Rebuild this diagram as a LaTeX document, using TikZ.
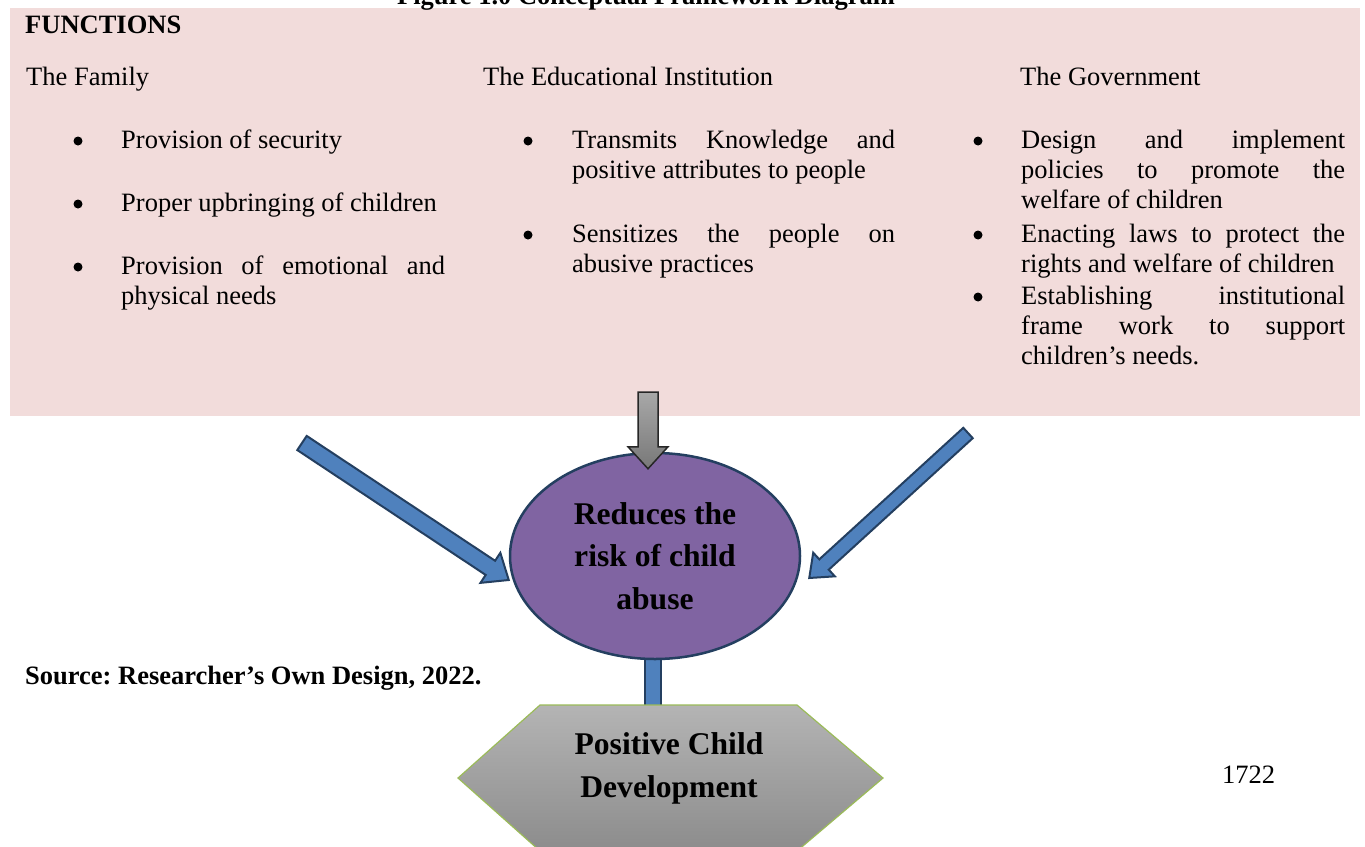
\documentclass[tikz,border=0pt]{standalone}
\usepackage{fontspec}
\setmainfont{Liberation Serif}
\usetikzlibrary{calc,shapes.geometric}
\frenchspacing

\definecolor{panelpink}{HTML}{F2DCDB}
\definecolor{riskviolet}{HTML}{8064A2}
\definecolor{navyline}{HTML}{243F60}
\definecolor{arrowblue}{HTML}{4F81BD}
\definecolor{leafgreen}{HTML}{9BBB59}
\definecolor{hextop}{HTML}{B4B4B4}
\definecolor{hexbottom}{HTML}{8C8C8C}
\definecolor{greytop}{HTML}{A8A8A8}
\definecolor{greybottom}{HTML}{787878}
\definecolor{greyline}{HTML}{262626}

\pgfdeclarelayer{background}
\pgfsetlayers{background,main}

% one justified line spanning the full column width
\newcommand\fullline[1]{\makebox[\linewidth][s]{#1}\par}

% block arrow: #1 options, #2 tail, #3 tip, #4 half shaft, #5 half head, #6 head length
\newcommand\blockarrow[6]{%
  \coordinate (arrowneck) at ($(#3)!#6!(#2)$);
  \path[#1] ($(#2)!#4!90:(#3)$) -- ($(arrowneck)!#4!-90:(#2)$)
    -- ($(arrowneck)!#5!-90:(#2)$) -- (#3) -- ($(arrowneck)!#5!90:(#2)$)
    -- ($(arrowneck)!#4!90:(#2)$) -- ($(#2)!#4!-90:(#3)$) -- cycle;}

\begin{document}
\begin{tikzpicture}[x=1pt,y=-1pt,
  plain/.style={font=\fontsize{26.5}{30}\selectfont, inner sep=0, anchor=base west},
  boldtext/.style={plain, font=\bfseries\fontsize{26.5}{30}\selectfont},
  item/.style={plain},
  bul/.style={circle, fill=black, inner sep=0, minimum size=9pt},
  bluearrow/.style={fill=arrowblue, draw=navyline, line width=2pt, line join=miter},
  greyarrow/.style={top color=greytop, bottom color=greybottom, draw=greyline, line width=1.5pt},
  bigbold/.style={font=\bfseries\fontsize{31.6}{42.5}\selectfont, align=center, inner sep=0}]

\useasboundingbox (0,0) rectangle (1365,846);

% caption, cut by the top edge
\node[boldtext, anchor=base] (title) at (646,4) {Figure 1.0 Conceptual Framework Diagram};

\node[boldtext] (functions) at (25,33) {FUNCTIONS};

% column headings
\node[plain] (family) at (26,85) {The Family};
\node[plain] (school) at (483,85) {The Educational Institution};
\node[plain] (govt) at (1020,85) {The Government};

% the family
\node[bul] (famb1) at (78,141) {};
\node[item] (fam1) at (121,148) {\parbox[t]{324pt}{Provision of security}};
\node[bul] (famb2) at (78,204) {};
\node[item] (fam2) at (121,211) {\parbox[t]{324pt}{Proper upbringing of children}};
\node[bul] (famb3) at (78,267) {};
\node[item] (fam3) at (121,274) {\parbox[t]{324pt}{\fullline{Provision of emotional and}physical needs}};

% the educational institution
\node[bul] (edub1) at (528,141) {};
\node[item] (edu1) at (572,148) {\parbox[t]{323pt}{\fullline{Transmits Knowledge and}positive attributes to people}};
\node[bul] (edub2) at (528,235) {};
\node[item] (edu2) at (572,242) {\parbox[t]{323pt}{\fullline{Sensitizes the people on}abusive practices}};

% the government
\node[bul] (govb1) at (978,141) {};
\node[item] (gov1) at (1021,148) {\parbox[t]{324pt}{\fullline{Design and implement}\fullline{policies to promote the}welfare of children}};
\node[bul] (govb2) at (978,235) {};
\node[item] (gov2) at (1021,242) {\parbox[t]{324pt}{\fullline{Enacting laws to protect the}rights and welfare of children}};
\node[bul] (govb3) at (978,297) {};
\node[item] (gov3) at (1021,304) {\parbox[t]{324pt}{\fullline{Establishing institutional}\fullline{frame work to support}children’s needs.}};

% central outcome
\node[ellipse, draw=navyline, line width=2.5pt, fill=riskviolet,
      minimum width=290pt, minimum height=206pt, bigbold] (risk) at (655,556)
      {Reduces the\\risk of child\\abuse};

% final outcome text
\node[bigbold, font=\bfseries\fontsize{31.6}{43}\selectfont] (pcd) at (669,768)
      {Positive Child\\Development};

\node[boldtext] (source) at (25,684) {Source: Researcher’s Own Design, 2022.};
\node[plain] (page) at (1222,783) {1722};

\begin{pgfonlayer}{background}
  \fill[white] (0,0) rectangle (1365,846);
  \fill[panelpink] (10,8) rectangle (1360,416);
  % stem from the ellipse down to the hexagon
  \filldraw[fill=arrowblue, draw=navyline, line width=1.8pt]
    ($(risk.south)+(-10,-20)$) rectangle ($(risk.south |- pcd.north)+(6,0)$);
  % hexagon behind the final outcome
  \shade[top color=hextop, bottom color=hexbottom, draw=leafgreen, line width=1.2pt]
    (458,778) -- (540,705) -- (797,705) -- (883,778) -- (797,851) -- (540,851) -- cycle;
\end{pgfonlayer}

% arrows feeding the central outcome
\coordinate (famtail) at (302,443);
\coordinate (famtip) at ($(risk.west)+(0,24)$);
\blockarrow{bluearrow}{famtail}{famtip}{8.5pt}{18pt}{22pt}

\coordinate (govtail) at (968,433);
\coordinate (govtip) at ($(risk.east)+(8,22)$);
\blockarrow{bluearrow}{govtail}{govtip}{7pt}{16pt}{20pt}

\coordinate (edutail) at (648,392);
\coordinate (edutip) at ($(risk.north)+(-7,17)$);
\blockarrow{greyarrow}{edutail}{edutip}{10pt}{20pt}{22pt}

\end{tikzpicture}
\end{document}
